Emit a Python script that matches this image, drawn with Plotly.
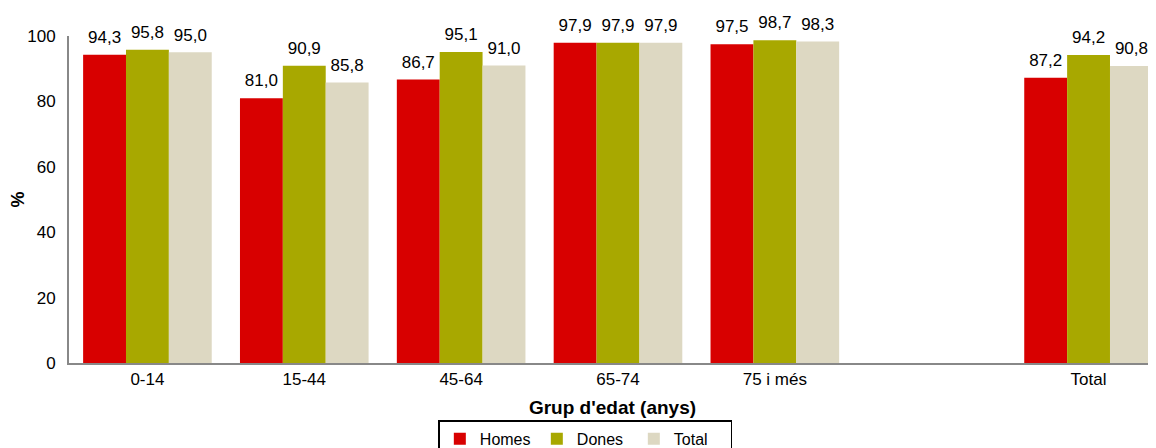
import plotly.graph_objects as go

grups = ['0-14', '15-44', '45-64', '65-74', '75 i més', ' ', 'Total']
homes = [94.3, 81.0, 86.7, 97.9, 97.5, None, 87.2]
dones = [95.8, 90.9, 95.1, 97.9, 98.7, None, 94.2]
total = [95.0, 85.8, 91.0, 97.9, 98.3, None, 90.8]

series = [('Homes', homes, '#d80000'), ('Dones', dones, '#a8a800'), ('Total', total, '#ddd8c2')]

fig = go.Figure()
for nom, vals, col in series:
    fig.add_trace(go.Bar(
        x=grups, y=vals, name=nom, marker_color=col, marker_line_width=0,
        texttemplate='<span style="font-size:17px">%{y:.1f}</span><br> ',
        textposition='outside', cliponaxis=False,
        textfont=dict(size=6, color='black'),
    ))

# the page adds an 8px body margin, so margins are shifted by that amount
fig.update_layout(
    width=1156, height=448,
    barmode='group', bargap=0.18, bargroupgap=0,
    separators=',.',
    font=dict(family='Liberation Sans, Arial', size=17, color='black'),
    plot_bgcolor='white', paper_bgcolor='white',
    margin=dict(l=61, r=8, t=28, b=93, autoexpand=False),
    legend=dict(orientation='h', x=0.475, xanchor='center', xref='paper',
                y=-0.175, yanchor='top', yref='paper',
                bordercolor='black', borderwidth=1.5, font=dict(size=16),
                itemwidth=30, tracegroupgap=0, entrywidth=52),
)
fig.update_xaxes(
    categoryorder='array', categoryarray=grups, automargin=False,
    range=[-0.5, 6.43],
    showline=True, linecolor='#888888', linewidth=2, ticks='',
    title=dict(text="<b>Grup d'edat (anys)</b>", font=dict(size=19), standoff=12),
    tickfont=dict(size=17),
)
fig.update_yaxes(
    range=[0, 100], dtick=20, showgrid=False, zeroline=False, automargin=False,
    showline=True, linecolor='#888888', linewidth=2, ticks='',
    ticklabelstandoff=8,
    title=dict(text='<b>%</b>', font=dict(size=18), standoff=14),
    tickfont=dict(size=17),
)

fig.write_html("out.html")
